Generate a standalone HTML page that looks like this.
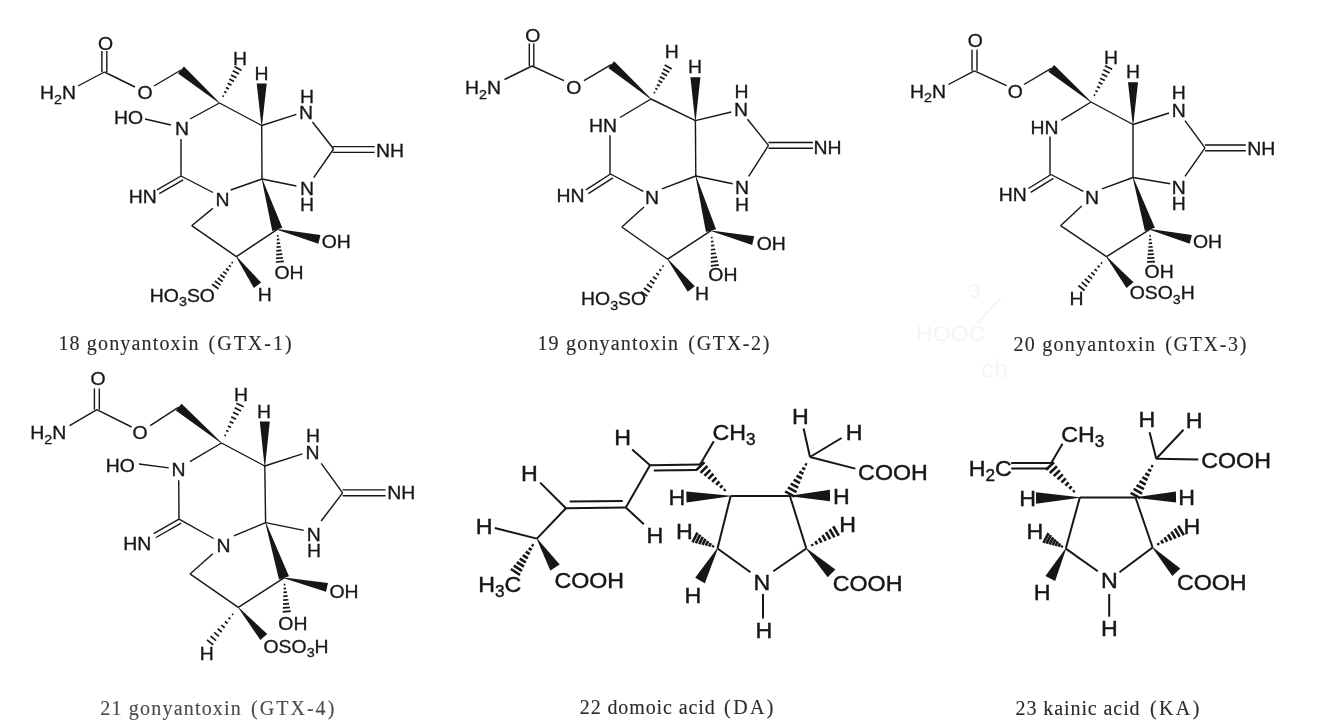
<!DOCTYPE html>
<html><head><meta charset="utf-8"><style>
html,body{margin:0;padding:0;background:#fff;width:1326px;height:726px;overflow:hidden}
svg{display:block;will-change:transform}
text{font-family:"Liberation Sans",sans-serif;fill:#151515}
text.cap{font-family:"Liberation Serif",serif;fill:#2a2a2a;stroke:#2a2a2a;stroke-width:0.12}
line,path{stroke:#151515;stroke-linecap:butt}
polygon{fill:#151515}
</style></head><body>
<svg width="1326" height="726" viewBox="0 0 1326 726">
<defs><filter id="b" x="0" y="0" width="1326" height="726" filterUnits="userSpaceOnUse"><feGaussianBlur stdDeviation="0.45"/></filter></defs>
<g filter="url(#b)">
<text transform="translate(916.11 341) scale(1.05 1)" font-size="22" style="fill:#f5f5f5">HOOC</text>
<line x1="977.7" y1="323" x2="1000.8" y2="298" stroke-width="2.2" style="stroke:#f5f5f5"/>
<text x="969.24" y="298" font-size="20" style="fill:#f5f5f5">3</text>
<text x="980.9" y="378" font-size="26" style="fill:#f5f5f5">ch</text>
<text transform="translate(97.88 49.7) scale(1.05 1)" font-size="18.5" stroke="#151515" stroke-width="0.3">O</text>
<line x1="101.9" y1="51" x2="101.9" y2="72" stroke-width="1.4"/>
<line x1="106.8" y1="51" x2="106.8" y2="72" stroke-width="1.4"/>
<line x1="104.4" y1="72" x2="78" y2="86" stroke-width="1.4"/>
<text transform="translate(40.01 99.3) scale(1.05 1)" font-size="18.5" stroke="#151515" stroke-width="0.3">H<tspan font-size="13.69" dy="4.44">2</tspan><tspan dy="-4.44">N</tspan></text>
<line x1="104.4" y1="72" x2="135" y2="87" stroke-width="1.4"/>
<text transform="translate(137.58 99.3) scale(1.05 1)" font-size="18.5" stroke="#151515" stroke-width="0.3">O</text>
<line x1="154" y1="86" x2="181" y2="70" stroke-width="1.4"/>
<polygon points="219.7,102.77 183.93,66.58 178.07,73.42 219.3,103.23"/>
<path d="M223.91 96.48L222.49 95.72M226.42 92.75L224.21 91.56M228.94 89.02L225.92 87.4M231.46 85.3L227.63 83.25M233.97 81.57L229.34 79.09M236.49 77.84L231.05 74.93M239.01 74.12L232.76 70.77M241.53 70.39L234.47 66.61" stroke-width="1.7"/>
<text transform="translate(233.01 64.9) scale(1.05 1)" font-size="18.5" stroke="#151515" stroke-width="0.3">H</text>
<polygon points="262,125.5 266.7,83.4 256.7,83.4 261.4,125.5"/>
<text transform="translate(254.51 79.9) scale(1.05 1)" font-size="18.5" stroke="#151515" stroke-width="0.3">H</text>
<line x1="219.5" y1="103" x2="261.7" y2="125.5" stroke-width="1.4"/>
<text transform="translate(114.01 123.9) scale(1.05 1)" font-size="18.5" stroke="#151515" stroke-width="0.3">HO</text>
<line x1="145" y1="119" x2="171" y2="125" stroke-width="1.4"/>
<text transform="translate(175.01 135.4) scale(1.05 1)" font-size="18.5" stroke="#151515" stroke-width="0.3">N</text>
<line x1="190" y1="119" x2="219.5" y2="103" stroke-width="1.4"/>
<line x1="181" y1="139" x2="181" y2="176" stroke-width="1.4"/>
<text transform="translate(128.81 203.3) scale(1.05 1)" font-size="18.5" stroke="#151515" stroke-width="0.3">HN</text>
<line x1="181" y1="176" x2="157" y2="189.8" stroke-width="1.4"/>
<line x1="183.24" y1="179.9" x2="159.24" y2="193.7" stroke-width="1.4"/>
<text transform="translate(215.51 205.9) scale(1.05 1)" font-size="18.5" stroke="#151515" stroke-width="0.3">N</text>
<line x1="181" y1="176" x2="213" y2="192.5" stroke-width="1.4"/>
<line x1="230.7" y1="190" x2="262" y2="179" stroke-width="1.4"/>
<line x1="261.7" y1="125.5" x2="262" y2="179" stroke-width="1.4"/>
<text transform="translate(299.01 119.2) scale(1.05 1)" font-size="18.5" stroke="#151515" stroke-width="0.3">N</text>
<text transform="translate(300.01 102.9) scale(1.05 1)" font-size="18.5" stroke="#151515" stroke-width="0.3">H</text>
<line x1="261.7" y1="125.5" x2="296.4" y2="114.4" stroke-width="1.4"/>
<line x1="312.5" y1="122" x2="333.6" y2="149" stroke-width="1.4"/>
<line x1="332.6" y1="152.4" x2="374.6" y2="152.4" stroke-width="1.4"/>
<line x1="332.6" y1="146.6" x2="374.6" y2="146.6" stroke-width="1.4"/>
<text transform="translate(376.01 156.5) scale(1.05 1)" font-size="18.5" stroke="#151515" stroke-width="0.3">NH</text>
<text transform="translate(300.01 194.9) scale(1.05 1)" font-size="18.5" stroke="#151515" stroke-width="0.3">N</text>
<text transform="translate(300.01 210.9) scale(1.05 1)" font-size="18.5" stroke="#151515" stroke-width="0.3">H</text>
<line x1="333.6" y1="149" x2="313.7" y2="177.6" stroke-width="1.4"/>
<line x1="262" y1="179" x2="296.4" y2="186" stroke-width="1.4"/>
<line x1="212.8" y1="208.4" x2="191.7" y2="225.7" stroke-width="1.4"/>
<line x1="191.7" y1="225.7" x2="236.4" y2="256.7" stroke-width="1.4"/>
<polygon points="261.71,179.09 272.28,230.93 282.32,227.87 262.29,178.91"/>
<line x1="236.4" y1="256.7" x2="277.3" y2="229.4" stroke-width="1.4"/>
<polygon points="277.23,229.69 318.37,243.68 320.43,234.92 277.37,229.11"/>
<text transform="translate(321.68 247.9) scale(1.05 1)" font-size="18.5" stroke="#151515" stroke-width="0.3">OH</text>
<path d="M277 235.92L278.6 235.8M276.83 239.65L279.34 239.45M276.66 243.38L280.08 243.11M276.49 247.1L280.82 246.77M276.32 250.83L281.56 250.42M276.15 254.56L282.31 254.08M275.98 258.28L283.05 257.74M275.81 262.01L283.79 261.39" stroke-width="1.7"/>
<text transform="translate(274.48 278.9) scale(1.05 1)" font-size="18.5" stroke="#151515" stroke-width="0.3">OH</text>
<path d="M231.53 262.2L232.83 263.12M228.74 265.34L230.79 266.79M225.96 268.48L228.76 270.46M223.17 271.62L226.72 274.13M220.39 274.76L224.68 277.8M217.6 277.91L222.64 281.47M214.82 281.05L220.6 285.14M212.04 284.19L218.56 288.81" stroke-width="1.7"/>
<text transform="translate(149.81 301.9) scale(1.05 1)" font-size="18.5" stroke="#151515" stroke-width="0.3">HO<tspan font-size="13.69" dy="4.44">3</tspan><tspan dy="-4.44">SO</tspan></text>
<polygon points="236.16,256.88 253.88,287.88 261.12,282.52 236.64,256.52"/>
<text transform="translate(257.71 300.9) scale(1.05 1)" font-size="18.5" stroke="#151515" stroke-width="0.3">H</text>
<text transform="translate(525.28 42.2) scale(1.05 1)" font-size="18.5" stroke="#151515" stroke-width="0.3">O</text>
<line x1="529.3" y1="43.5" x2="529.3" y2="66" stroke-width="1.4"/>
<line x1="533.8" y1="43.5" x2="533.8" y2="66" stroke-width="1.4"/>
<line x1="532" y1="66" x2="504.5" y2="79.5" stroke-width="1.4"/>
<text transform="translate(465.01 94.3) scale(1.05 1)" font-size="18.5" stroke="#151515" stroke-width="0.3">H<tspan font-size="13.69" dy="4.44">2</tspan><tspan dy="-4.44">N</tspan></text>
<line x1="532" y1="66" x2="564" y2="80.7" stroke-width="1.4"/>
<text transform="translate(566.18 94.3) scale(1.05 1)" font-size="18.5" stroke="#151515" stroke-width="0.3">O</text>
<line x1="584" y1="80.7" x2="611.2" y2="64.6" stroke-width="1.4"/>
<polygon points="651.2,98.77 614.14,61.2 608.26,68 650.8,99.23"/>
<path d="M655.14 92.98L653.74 92.22M657.51 89.54L655.3 88.35M659.88 86.1L656.86 84.47M662.25 82.66L658.42 80.6M664.62 79.22L659.99 76.73M666.99 75.78L661.55 72.85M669.35 72.33L663.11 68.98M671.72 68.89L664.68 65.11" stroke-width="1.7"/>
<text transform="translate(664.71 58.3) scale(1.05 1)" font-size="18.5" stroke="#151515" stroke-width="0.3">H</text>
<polygon points="695.7,120.6 700.4,77.2 690.4,77.2 695.1,120.6"/>
<text transform="translate(688.01 73.4) scale(1.05 1)" font-size="18.5" stroke="#151515" stroke-width="0.3">H</text>
<line x1="651" y1="99" x2="695.4" y2="120.6" stroke-width="1.4"/>
<text transform="translate(589.01 131.5) scale(1.05 1)" font-size="18.5" stroke="#151515" stroke-width="0.3">HN</text>
<line x1="651" y1="99" x2="620" y2="117.5" stroke-width="1.4"/>
<line x1="610" y1="135.3" x2="610" y2="174" stroke-width="1.4"/>
<text transform="translate(556.41 202.1) scale(1.05 1)" font-size="18.5" stroke="#151515" stroke-width="0.3">HN</text>
<line x1="610.5" y1="174" x2="585.9" y2="189.8" stroke-width="1.4"/>
<line x1="612.93" y1="177.79" x2="588.33" y2="193.59" stroke-width="1.4"/>
<text transform="translate(645.01 203.9) scale(1.05 1)" font-size="18.5" stroke="#151515" stroke-width="0.3">N</text>
<line x1="610.5" y1="174" x2="643.3" y2="191.3" stroke-width="1.4"/>
<line x1="662" y1="188.8" x2="695.8" y2="176" stroke-width="1.4"/>
<line x1="695.4" y1="120.6" x2="695.8" y2="176" stroke-width="1.4"/>
<text transform="translate(734.01 115.5) scale(1.05 1)" font-size="18.5" stroke="#151515" stroke-width="0.3">N</text>
<text transform="translate(734.51 98.2) scale(1.05 1)" font-size="18.5" stroke="#151515" stroke-width="0.3">H</text>
<line x1="695.4" y1="120.6" x2="731.3" y2="112" stroke-width="1.4"/>
<line x1="747.5" y1="119.3" x2="768.5" y2="145.4" stroke-width="1.4"/>
<line x1="768.5" y1="148.3" x2="813" y2="148.3" stroke-width="1.4"/>
<line x1="768.5" y1="142.5" x2="813" y2="142.5" stroke-width="1.4"/>
<text transform="translate(813.41 153.9) scale(1.05 1)" font-size="18.5" stroke="#151515" stroke-width="0.3">NH</text>
<text transform="translate(735.01 193.6) scale(1.05 1)" font-size="18.5" stroke="#151515" stroke-width="0.3">N</text>
<text transform="translate(735.01 210.9) scale(1.05 1)" font-size="18.5" stroke="#151515" stroke-width="0.3">H</text>
<line x1="768.5" y1="145.4" x2="748.7" y2="176.4" stroke-width="1.4"/>
<line x1="695.8" y1="176" x2="732.6" y2="183.8" stroke-width="1.4"/>
<line x1="644" y1="207" x2="621.8" y2="227" stroke-width="1.4"/>
<line x1="621.8" y1="227" x2="667.7" y2="259.2" stroke-width="1.4"/>
<polygon points="695.51,176.08 705.94,232.11 716.06,229.29 696.09,175.92"/>
<line x1="667.7" y1="259.2" x2="711" y2="230.7" stroke-width="1.4"/>
<polygon points="710.93,230.99 752.17,244.98 754.23,236.22 711.07,230.41"/>
<text transform="translate(756.68 250.4) scale(1.05 1)" font-size="18.5" stroke="#151515" stroke-width="0.3">OH</text>
<path d="M710.96 237.73L712.56 237.55M710.94 241.74L713.44 241.47M710.92 245.76L714.33 245.38M710.9 249.77L715.22 249.3M710.88 253.79L716.11 253.22M710.86 257.8L717 257.13M710.84 261.82L717.89 261.05M710.82 265.84L718.78 264.96" stroke-width="1.7"/>
<text transform="translate(708.28 281.4) scale(1.05 1)" font-size="18.5" stroke="#151515" stroke-width="0.3">OH</text>
<path d="M662.32 265.69L663.64 266.59M659.24 269.4L661.32 270.81M656.17 273.11L659 275.04M653.09 276.82L656.68 279.26M650.02 280.52L654.36 283.48M646.94 284.23L652.05 287.7M643.87 287.94L649.73 291.93M640.79 291.65L647.41 296.15" stroke-width="1.7"/>
<text transform="translate(581.01 305.4) scale(1.05 1)" font-size="18.5" stroke="#151515" stroke-width="0.3">HO<tspan font-size="13.69" dy="4.44">3</tspan><tspan dy="-4.44">SO</tspan></text>
<polygon points="667.46,259.39 687.77,291.79 694.83,286.21 667.94,259.01"/>
<text transform="translate(695.01 299.9) scale(1.05 1)" font-size="18.5" stroke="#151515" stroke-width="0.3">H</text>
<text transform="translate(967.68 47.2) scale(1.05 1)" font-size="18.5" stroke="#151515" stroke-width="0.3">O</text>
<line x1="972" y1="49.8" x2="972" y2="70.8" stroke-width="1.4"/>
<line x1="977" y1="49.8" x2="977" y2="70.8" stroke-width="1.4"/>
<line x1="974.4" y1="70.8" x2="948.4" y2="84.5" stroke-width="1.4"/>
<text transform="translate(910.01 97.9) scale(1.05 1)" font-size="18.5" stroke="#151515" stroke-width="0.3">H<tspan font-size="13.69" dy="4.44">2</tspan><tspan dy="-4.44">N</tspan></text>
<line x1="974.4" y1="70.8" x2="1006.6" y2="85.7" stroke-width="1.4"/>
<text transform="translate(1007.68 97.9) scale(1.05 1)" font-size="18.5" stroke="#151515" stroke-width="0.3">O</text>
<line x1="1024" y1="84.5" x2="1051.2" y2="68.4" stroke-width="1.4"/>
<polygon points="1091.19,101.77 1054.1,64.96 1048.3,71.84 1090.81,102.23"/>
<path d="M1095.21 95.46L1093.79 94.74M1097.62 91.73L1095.38 90.59M1100.03 87.99L1096.97 86.44M1102.44 84.25L1098.56 82.29M1104.84 80.52L1100.16 78.14M1107.25 76.78L1101.75 73.99M1109.66 73.05L1103.34 69.84M1112.07 69.31L1104.93 65.69" stroke-width="1.7"/>
<text transform="translate(1104.01 63.9) scale(1.05 1)" font-size="18.5" stroke="#151515" stroke-width="0.3">H</text>
<polygon points="1133.3,124.5 1138,82.2 1128,82.2 1132.7,124.5"/>
<text transform="translate(1126.01 78.3) scale(1.05 1)" font-size="18.5" stroke="#151515" stroke-width="0.3">H</text>
<line x1="1091" y1="102" x2="1133" y2="124.5" stroke-width="1.4"/>
<text transform="translate(1030.41 133.9) scale(1.05 1)" font-size="18.5" stroke="#151515" stroke-width="0.3">HN</text>
<line x1="1091" y1="102" x2="1061.2" y2="120.4" stroke-width="1.4"/>
<line x1="1050" y1="136.5" x2="1050" y2="174.5" stroke-width="1.4"/>
<text transform="translate(998.81 200.8) scale(1.05 1)" font-size="18.5" stroke="#151515" stroke-width="0.3">HN</text>
<line x1="1051" y1="174.5" x2="1028.4" y2="188.5" stroke-width="1.4"/>
<line x1="1053.37" y1="178.33" x2="1030.77" y2="192.33" stroke-width="1.4"/>
<text transform="translate(1084.91 203.9) scale(1.05 1)" font-size="18.5" stroke="#151515" stroke-width="0.3">N</text>
<line x1="1051" y1="174.5" x2="1083.4" y2="191.3" stroke-width="1.4"/>
<line x1="1102" y1="188.8" x2="1133" y2="177.5" stroke-width="1.4"/>
<line x1="1133" y1="124.5" x2="1133" y2="177.5" stroke-width="1.4"/>
<text transform="translate(1171.71 116.8) scale(1.05 1)" font-size="18.5" stroke="#151515" stroke-width="0.3">N</text>
<text transform="translate(1171.71 99.4) scale(1.05 1)" font-size="18.5" stroke="#151515" stroke-width="0.3">H</text>
<line x1="1133" y1="124.5" x2="1169" y2="113" stroke-width="1.4"/>
<line x1="1185" y1="120.6" x2="1205" y2="147.9" stroke-width="1.4"/>
<line x1="1205" y1="150.8" x2="1245.8" y2="150.8" stroke-width="1.4"/>
<line x1="1205" y1="145" x2="1245.8" y2="145" stroke-width="1.4"/>
<text transform="translate(1247.31 155.2) scale(1.05 1)" font-size="18.5" stroke="#151515" stroke-width="0.3">NH</text>
<text transform="translate(1171.71 193.6) scale(1.05 1)" font-size="18.5" stroke="#151515" stroke-width="0.3">N</text>
<text transform="translate(1171.71 209.7) scale(1.05 1)" font-size="18.5" stroke="#151515" stroke-width="0.3">H</text>
<line x1="1205" y1="147.9" x2="1185" y2="176.4" stroke-width="1.4"/>
<line x1="1133" y1="177.5" x2="1170.2" y2="183.8" stroke-width="1.4"/>
<line x1="1081.7" y1="205.9" x2="1060.6" y2="225.7" stroke-width="1.4"/>
<line x1="1060.6" y1="225.7" x2="1106.5" y2="256.7" stroke-width="1.4"/>
<polygon points="1132.71,177.59 1144.91,231.03 1154.89,227.77 1133.29,177.41"/>
<line x1="1106.5" y1="256.7" x2="1149.9" y2="229.4" stroke-width="1.4"/>
<polygon points="1149.83,229.69 1189.74,243.67 1191.86,234.93 1149.97,229.11"/>
<text transform="translate(1192.88 247.9) scale(1.05 1)" font-size="18.5" stroke="#151515" stroke-width="0.3">OH</text>
<path d="M1149.32 235.89L1150.92 235.83M1148.99 239.59L1151.5 239.51M1148.66 243.3L1152.08 243.18M1148.33 247.01L1152.67 246.86M1148 250.72L1153.25 250.54M1147.66 254.42L1153.83 254.21M1147.33 258.13L1154.42 257.89M1147 261.84L1155 261.56" stroke-width="1.7"/>
<text transform="translate(1144.58 277.7) scale(1.05 1)" font-size="18.5" stroke="#151515" stroke-width="0.3">OH</text>
<path d="M1100.87 262.46L1102.13 263.46M1097.66 265.75L1099.63 267.32M1094.45 269.04L1097.13 271.18M1091.23 272.34L1094.63 275.05M1088.02 275.63L1092.13 278.91M1084.8 278.92L1089.63 282.77M1081.59 282.21L1087.13 286.63M1078.37 285.5L1084.63 290.5" stroke-width="1.7"/>
<text transform="translate(1069.51 304.9) scale(1.05 1)" font-size="18.5" stroke="#151515" stroke-width="0.3">H</text>
<polygon points="1106.27,256.89 1126.53,288.06 1133.47,282.34 1106.73,256.51"/>
<text transform="translate(1129.68 299.4) scale(1.05 1)" font-size="18.5" stroke="#151515" stroke-width="0.3">OSO<tspan font-size="13.69" dy="4.44">3</tspan><tspan dy="-4.44">H</tspan></text>
<text transform="translate(90.38 384.7) scale(1.05 1)" font-size="18.5" stroke="#151515" stroke-width="0.3">O</text>
<line x1="94.4" y1="388.5" x2="94.4" y2="409.6" stroke-width="1.4"/>
<line x1="99.3" y1="388.5" x2="99.3" y2="409.6" stroke-width="1.4"/>
<line x1="96.9" y1="409.6" x2="69.6" y2="425.7" stroke-width="1.4"/>
<text transform="translate(30.21 439.2) scale(1.05 1)" font-size="18.5" stroke="#151515" stroke-width="0.3">H<tspan font-size="13.69" dy="4.44">2</tspan><tspan dy="-4.44">N</tspan></text>
<line x1="96.9" y1="409.6" x2="131.6" y2="427" stroke-width="1.4"/>
<text transform="translate(132.48 439.2) scale(1.05 1)" font-size="18.5" stroke="#151515" stroke-width="0.3">O</text>
<line x1="150.2" y1="425.7" x2="178.7" y2="407.1" stroke-width="1.4"/>
<polygon points="221.69,442.77 181.59,403.65 175.81,410.55 221.31,443.23"/>
<path d="M225.92 435.75L224.48 435.05M228.44 431.61L226.18 430.51M230.97 427.46L227.89 425.96M233.5 423.32L229.59 421.42M236.02 419.18L231.29 416.88M238.55 415.04L233 412.34M241.07 410.89L234.7 407.79M243.6 406.75L236.4 403.25" stroke-width="1.7"/>
<text transform="translate(234.01 400.9) scale(1.05 1)" font-size="18.5" stroke="#151515" stroke-width="0.3">H</text>
<polygon points="265.1,466 269.8,421.6 259.8,421.6 264.5,466"/>
<text transform="translate(257.01 417.5) scale(1.05 1)" font-size="18.5" stroke="#151515" stroke-width="0.3">H</text>
<line x1="221.5" y1="443" x2="264.8" y2="466" stroke-width="1.4"/>
<text transform="translate(105.81 471.5) scale(1.05 1)" font-size="18.5" stroke="#151515" stroke-width="0.3">HO</text>
<line x1="139" y1="464" x2="168.8" y2="467.9" stroke-width="1.4"/>
<text transform="translate(171.51 476.4) scale(1.05 1)" font-size="18.5" stroke="#151515" stroke-width="0.3">N</text>
<line x1="189.9" y1="461.7" x2="221.5" y2="443" stroke-width="1.4"/>
<line x1="178.7" y1="480.3" x2="179" y2="519.2" stroke-width="1.4"/>
<text transform="translate(123.21 549.6) scale(1.05 1)" font-size="18.5" stroke="#151515" stroke-width="0.3">HN</text>
<line x1="179" y1="519.2" x2="153.7" y2="533.6" stroke-width="1.4"/>
<line x1="181.23" y1="523.11" x2="155.93" y2="537.51" stroke-width="1.4"/>
<text transform="translate(216.51 551.9) scale(1.05 1)" font-size="18.5" stroke="#151515" stroke-width="0.3">N</text>
<line x1="179" y1="519.2" x2="213.7" y2="538.5" stroke-width="1.4"/>
<line x1="233.9" y1="535.8" x2="265.6" y2="522.6" stroke-width="1.4"/>
<line x1="264.8" y1="466" x2="265.6" y2="522.6" stroke-width="1.4"/>
<text transform="translate(305.41 459.1) scale(1.05 1)" font-size="18.5" stroke="#151515" stroke-width="0.3">N</text>
<text transform="translate(306.01 441.7) scale(1.05 1)" font-size="18.5" stroke="#151515" stroke-width="0.3">H</text>
<line x1="264.8" y1="466" x2="302.4" y2="453.9" stroke-width="1.4"/>
<line x1="321.2" y1="463.3" x2="342.6" y2="492.8" stroke-width="1.4"/>
<line x1="342.6" y1="495.7" x2="385.6" y2="495.7" stroke-width="1.4"/>
<line x1="342.6" y1="489.9" x2="385.6" y2="489.9" stroke-width="1.4"/>
<text transform="translate(387.31 499.4) scale(1.05 1)" font-size="18.5" stroke="#151515" stroke-width="0.3">NH</text>
<text transform="translate(306.71 541.1) scale(1.05 1)" font-size="18.5" stroke="#151515" stroke-width="0.3">N</text>
<text transform="translate(307.01 557.2) scale(1.05 1)" font-size="18.5" stroke="#151515" stroke-width="0.3">H</text>
<line x1="342.6" y1="492.8" x2="321.2" y2="521" stroke-width="1.4"/>
<line x1="265.6" y1="522.6" x2="303.7" y2="530.4" stroke-width="1.4"/>
<line x1="212.8" y1="553.7" x2="190" y2="573.9" stroke-width="1.4"/>
<line x1="190" y1="573.9" x2="238.3" y2="607.4" stroke-width="1.4"/>
<polygon points="265.32,522.69 279.02,579.56 288.98,576.24 265.88,522.51"/>
<line x1="238.3" y1="607.4" x2="284" y2="577.9" stroke-width="1.4"/>
<polygon points="283.94,578.19 326.04,591.7 327.96,582.9 284.06,577.61"/>
<text transform="translate(329.38 597.9) scale(1.05 1)" font-size="18.5" stroke="#151515" stroke-width="0.3">OH</text>
<path d="M283.74 584.68L285.34 584.56M283.6 588.56L286.1 588.36M283.45 592.44L286.87 592.16M283.3 596.31L287.63 595.97M283.15 600.19L288.39 599.77M283.01 604.07L289.16 603.57M282.86 607.94L289.92 607.38M282.71 611.82L290.69 611.18" stroke-width="1.7"/>
<text transform="translate(278.28 630.2) scale(1.05 1)" font-size="18.5" stroke="#151515" stroke-width="0.3">OH</text>
<path d="M232.04 613.9L233.28 614.9M228.46 617.61L230.42 619.19M224.88 621.32L227.55 623.48M221.3 625.04L224.68 627.76M217.72 628.75L221.82 632.05M214.14 632.46L218.95 636.34M210.56 636.18L216.08 640.62M206.99 639.89L213.21 644.91" stroke-width="1.7"/>
<text transform="translate(199.71 659.7) scale(1.05 1)" font-size="18.5" stroke="#151515" stroke-width="0.3">H</text>
<polygon points="238.07,607.6 260.39,639.94 267.21,634.06 238.53,607.2"/>
<text transform="translate(263.48 653) scale(1.05 1)" font-size="18.5" stroke="#151515" stroke-width="0.3">OSO<tspan font-size="13.69" dy="4.44">3</tspan><tspan dy="-4.44">H</tspan></text>
<text transform="translate(475.7 533.9) scale(1.08 1)" font-size="21.5" stroke="#151515" stroke-width="0.4">H</text>
<line x1="494.8" y1="528" x2="536.9" y2="538.6" stroke-width="2.0"/>
<path d="M531.69 544.69L533.55 545.87M528.72 548.16L531.63 550.03M525.74 551.64L529.71 554.19M522.77 555.12L527.8 558.34M519.79 558.6L525.88 562.5M516.82 562.08L523.96 566.65M513.84 565.55L522.05 570.81M510.87 569.03L520.13 574.97" stroke-width="2.6"/>
<text transform="translate(478.2 592.1) scale(1.08 1)" font-size="21.5" stroke="#151515" stroke-width="0.4">H<tspan font-size="15.91" dy="5.16">3</tspan><tspan dy="-5.16">C</tspan></text>
<polygon points="536.65,538.76 550.34,570.42 559.66,564.58 537.15,538.44"/>
<text transform="translate(554.52 588.2) scale(1.08 1)" font-size="21.5" stroke="#151515" stroke-width="0.4">COOH</text>
<line x1="536.9" y1="538.6" x2="565.9" y2="508.3" stroke-width="2.0"/>
<text transform="translate(520.9 480.8) scale(1.08 1)" font-size="21.5" stroke="#151515" stroke-width="0.4">H</text>
<line x1="540.2" y1="482.6" x2="565.9" y2="508.3" stroke-width="2.0"/>
<line x1="565.9" y1="508.3" x2="625.8" y2="507.6" stroke-width="2.0"/>
<line x1="569.7" y1="501.5" x2="622.7" y2="500.9" stroke-width="2.0"/>
<line x1="625.8" y1="507.6" x2="643.9" y2="524.2" stroke-width="2.0"/>
<text transform="translate(646.6 542.9) scale(1.08 1)" font-size="21.5" stroke="#151515" stroke-width="0.4">H</text>
<line x1="625.8" y1="507.6" x2="650" y2="465.2" stroke-width="2.0"/>
<text transform="translate(614.3 445.3) scale(1.08 1)" font-size="21.5" stroke="#151515" stroke-width="0.4">H</text>
<line x1="632.2" y1="449.6" x2="650" y2="465.2" stroke-width="2.0"/>
<line x1="650" y1="465.2" x2="700.1" y2="464.4" stroke-width="2.0"/>
<line x1="653.8" y1="470.5" x2="697" y2="469.9" stroke-width="2.0"/>
<line x1="700.1" y1="464.4" x2="713.8" y2="441.2" stroke-width="2.0"/>
<text transform="translate(712.42 439.8) scale(1.08 1)" font-size="21.5" stroke="#151515" stroke-width="0.4">CH<tspan font-size="15.91" dy="5.16">3</tspan></text>
<path d="M725.44 489.22L723.88 490.78M722.43 485.35L719.99 487.8M719.42 481.47L716.1 484.82M716.41 477.6L712.2 481.83M713.4 473.72L708.31 478.85M710.39 469.85L704.41 475.87M707.38 465.97L700.52 472.88M704.38 462.1L696.62 469.9" stroke-width="2.6"/>
<line x1="730.7" y1="496" x2="789.9" y2="496" stroke-width="2.0"/>
<polygon points="730.69,495.7 686.28,491.5 686.52,502.5 730.71,496.3"/>
<text transform="translate(668.4 505.3) scale(1.08 1)" font-size="21.5" stroke="#151515" stroke-width="0.4">H</text>
<line x1="730.7" y1="496" x2="717.5" y2="548.5" stroke-width="2.0"/>
<line x1="789.9" y1="496" x2="806.3" y2="548.5" stroke-width="2.0"/>
<text transform="translate(753.6 589.5) scale(1.08 1)" font-size="21.5" stroke="#151515" stroke-width="0.4">N</text>
<line x1="717.5" y1="548.5" x2="750.5" y2="572.3" stroke-width="2.0"/>
<line x1="773.3" y1="571.3" x2="806.3" y2="548.5" stroke-width="2.0"/>
<line x1="763" y1="594" x2="763" y2="618.5" stroke-width="2.0"/>
<text transform="translate(755.6 638) scale(1.08 1)" font-size="21.5" stroke="#151515" stroke-width="0.4">H</text>
<path d="M713.48 545.31L712.52 547.29M710.81 543.19L709.19 546.48M708.13 541.06L705.87 545.67M705.45 538.94L702.55 544.86M702.77 536.81L699.23 544.06M700.09 534.68L695.91 543.25M697.42 532.56L692.58 542.44" stroke-width="2.6"/>
<text transform="translate(676.1 538.9) scale(1.08 1)" font-size="21.5" stroke="#151515" stroke-width="0.4">H</text>
<polygon points="717.24,548.36 695.17,577.86 704.83,583.14 717.76,548.64"/>
<text transform="translate(684.4 603) scale(1.08 1)" font-size="21.5" stroke="#151515" stroke-width="0.4">H</text>
<path d="M812.8 545.95L811.68 544.05M817.13 544.25L815.27 541.09M821.46 542.54L818.86 538.12M825.8 540.84L822.44 535.16M830.13 539.14L826.03 532.19M834.46 537.44L829.62 529.23M838.79 535.74L833.21 526.26" stroke-width="2.6"/>
<text transform="translate(839.3 531.7) scale(1.08 1)" font-size="21.5" stroke="#151515" stroke-width="0.4">H</text>
<polygon points="806.09,548.71 827.64,577.22 835.36,569.38 806.51,548.29"/>
<text transform="translate(832.82 590.6) scale(1.08 1)" font-size="21.5" stroke="#151515" stroke-width="0.4">COOH</text>
<polygon points="789.9,496.3 830.07,501.25 829.93,489.75 789.9,495.7"/>
<text transform="translate(833.1 504.2) scale(1.08 1)" font-size="21.5" stroke="#151515" stroke-width="0.4">H</text>
<path d="M805.01 463.87L806.95 464.93M802.16 467.8L805.2 469.45M799.31 471.73L803.46 473.98M796.46 475.66L801.71 478.51M793.62 479.59L799.97 483.04M790.77 483.52L798.22 487.57M787.92 487.45L796.48 492.1M785.07 491.37L794.73 496.63" stroke-width="2.6"/>
<line x1="810" y1="457" x2="803.6" y2="428.5" stroke-width="2.0"/>
<text transform="translate(791.9 424) scale(1.08 1)" font-size="21.5" stroke="#151515" stroke-width="0.4">H</text>
<line x1="810" y1="457" x2="841.6" y2="438" stroke-width="2.0"/>
<text transform="translate(845.8 439.8) scale(1.08 1)" font-size="21.5" stroke="#151515" stroke-width="0.4">H</text>
<line x1="810" y1="457" x2="855.3" y2="468.6" stroke-width="2.0"/>
<text transform="translate(858.12 479.9) scale(1.08 1)" font-size="21.5" stroke="#151515" stroke-width="0.4">COOH</text>
<text transform="translate(968.8 475.7) scale(1.08 1)" font-size="21.5" stroke="#151515" stroke-width="0.4">H<tspan font-size="15.91" dy="5.16">2</tspan><tspan dy="-5.16">C</tspan></text>
<line x1="1011.2" y1="462.9" x2="1050.9" y2="462.9" stroke-width="2.0"/>
<line x1="1011.2" y1="468.6" x2="1049" y2="468.6" stroke-width="2.0"/>
<line x1="1050.9" y1="463.5" x2="1062.5" y2="443.8" stroke-width="2.0"/>
<text transform="translate(1061.32 441.9) scale(1.08 1)" font-size="21.5" stroke="#151515" stroke-width="0.4">CH<tspan font-size="15.91" dy="5.16">3</tspan></text>
<path d="M1074.64 490.44L1073.04 491.96M1071.69 486.41L1069.18 488.79M1068.74 482.38L1065.32 485.62M1065.79 478.35L1061.45 482.45M1062.84 474.32L1057.59 479.28M1059.89 470.28L1053.73 476.12M1056.94 466.25L1049.87 472.95M1054 462.22L1046 469.78" stroke-width="2.6"/>
<line x1="1079.8" y1="497.5" x2="1135.5" y2="497.5" stroke-width="2.0"/>
<polygon points="1079.8,497.2 1035.93,492.25 1036.07,503.75 1079.8,497.8"/>
<text transform="translate(1019.2 505.9) scale(1.08 1)" font-size="21.5" stroke="#151515" stroke-width="0.4">H</text>
<polygon points="1135.5,497.8 1176.07,502.5 1175.93,491.5 1135.5,497.2"/>
<text transform="translate(1178.2 505.2) scale(1.08 1)" font-size="21.5" stroke="#151515" stroke-width="0.4">H</text>
<path d="M1151.1 465.52L1153.02 466.6M1148.19 469.42L1151.2 471.11M1145.27 473.32L1149.38 475.63M1142.36 477.21L1147.57 480.14M1139.45 481.11L1145.75 484.65M1136.53 485.01L1143.93 489.17M1133.62 488.91L1142.11 493.68M1130.71 492.8L1140.29 498.2" stroke-width="2.6"/>
<line x1="1156.2" y1="458.7" x2="1149.6" y2="432.2" stroke-width="2.0"/>
<text transform="translate(1138.6 427) scale(1.08 1)" font-size="21.5" stroke="#151515" stroke-width="0.4">H</text>
<line x1="1156.2" y1="458.7" x2="1183.5" y2="429.8" stroke-width="2.0"/>
<text transform="translate(1185.7 427.5) scale(1.08 1)" font-size="21.5" stroke="#151515" stroke-width="0.4">H</text>
<line x1="1156.2" y1="458.7" x2="1198.3" y2="459.5" stroke-width="2.0"/>
<text transform="translate(1201.32 468.3) scale(1.08 1)" font-size="21.5" stroke="#151515" stroke-width="0.4">COOH</text>
<line x1="1079.8" y1="497.5" x2="1065.8" y2="548.6" stroke-width="2.0"/>
<line x1="1135.5" y1="497.5" x2="1152.6" y2="547.5" stroke-width="2.0"/>
<text transform="translate(1100.9 587.5) scale(1.08 1)" font-size="21.5" stroke="#151515" stroke-width="0.4">N</text>
<line x1="1065.8" y1="548.6" x2="1097.8" y2="571.3" stroke-width="2.0"/>
<line x1="1119.5" y1="572.3" x2="1152.6" y2="547.5" stroke-width="2.0"/>
<line x1="1109.2" y1="594" x2="1109.2" y2="616.7" stroke-width="2.0"/>
<text transform="translate(1100.9 636.1) scale(1.08 1)" font-size="21.5" stroke="#151515" stroke-width="0.4">H</text>
<path d="M1062.36 545.51L1061.32 547.45M1060.07 543.45L1058.33 546.68M1057.77 541.39L1055.35 545.92M1055.48 539.33L1052.36 545.15M1053.18 537.27L1049.38 544.38M1050.89 535.21L1046.39 543.62M1048.6 533.15L1043.4 542.85" stroke-width="2.6"/>
<text transform="translate(1026.5 539) scale(1.08 1)" font-size="21.5" stroke="#151515" stroke-width="0.4">H</text>
<polygon points="1065.53,548.46 1045.42,575.97 1055.18,581.03 1066.07,548.74"/>
<text transform="translate(1033.7 599.9) scale(1.08 1)" font-size="21.5" stroke="#151515" stroke-width="0.4">H</text>
<path d="M1158.84 545.04L1157.72 543.16M1163.01 543.41L1161.13 540.26M1167.17 541.77L1164.54 537.36M1171.33 540.13L1167.95 534.47M1175.5 538.49L1171.36 531.57M1179.66 536.86L1174.77 528.68M1183.82 535.22L1178.18 525.78" stroke-width="2.6"/>
<text transform="translate(1183.5 533.7) scale(1.08 1)" font-size="21.5" stroke="#151515" stroke-width="0.4">H</text>
<polygon points="1152.38,547.71 1172.32,576.1 1180.28,568.5 1152.82,547.29"/>
<text transform="translate(1177.02 589.6) scale(1.08 1)" font-size="21.5" stroke="#151515" stroke-width="0.4">COOH</text>
<text class="cap" x="58.4" y="350" font-size="20" letter-spacing="1.16">18 gonyantoxin</text>
<text class="cap" x="208.6" y="350" font-size="20" letter-spacing="1.98">(GTX-1)</text>
<text class="cap" x="537.4" y="349.6" font-size="20" letter-spacing="1.2">19 gonyantoxin</text>
<text class="cap" x="688.3" y="349.6" font-size="20" letter-spacing="1.68">(GTX-2)</text>
<text class="cap" x="1013.4" y="351" font-size="20" letter-spacing="1.27">20 gonyantoxin</text>
<text class="cap" x="1165.2" y="351" font-size="20" letter-spacing="1.68">(GTX-3)</text>
<text class="cap" x="100.3" y="714.5" font-size="20" letter-spacing="1.19" style="fill:#4a4a4a;stroke:#4a4a4a">21 gonyantoxin</text>
<text class="cap" x="251.1" y="714.5" font-size="20" letter-spacing="2.02" style="fill:#4a4a4a;stroke:#4a4a4a">(GTX-4)</text>
<text class="cap" x="579.8" y="714.3" font-size="20" letter-spacing="0.89">22 domoic acid</text>
<text class="cap" x="724.1" y="714.3" font-size="20" letter-spacing="2.4">(DA)</text>
<text class="cap" x="1015.6" y="715" font-size="20" letter-spacing="0.91">23 kainic acid</text>
<text class="cap" x="1150" y="715" font-size="20" letter-spacing="2.37">(KA)</text>
</g>
</svg></body></html>
